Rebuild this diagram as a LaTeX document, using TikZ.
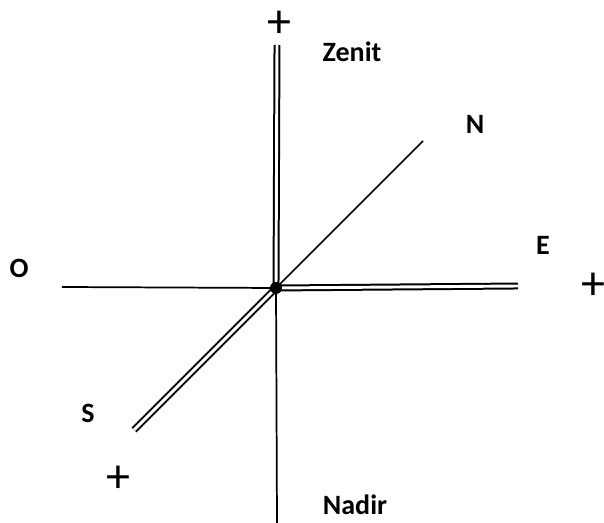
\documentclass[tikz,border=0pt]{standalone}
\usepackage{fontspec}
\setmainfont{Carlito}
\usetikzlibrary{positioning}

\begin{document}
\begin{tikzpicture}[
    x=0.75pt, y=-0.75pt,
    axis/.style={line width=1.3pt},
    dbl/.style={double, line width=1.5pt, double distance=2.2pt},
    lbl/.style={font=\fontsize{21}{21}\selectfont\bfseries, inner sep=0pt},
    plus/.style={font=\fontsize{36}{36}\selectfont, inner sep=0pt}
]
\useasboundingbox (0,0) rectangle (604,523);

% axis ends
\coordinate (c) at (276,288);
\coordinate (top) at (277,45);
\coordinate (bot) at (277,523);
\coordinate (west) at (62,287);
\coordinate (east) at (518,286);
\coordinate (sw) at (134,430);
\coordinate (ne) at (423,141);

% single halves
\draw[axis] (c) -- (bot);
\draw[axis] (west) -- (c);
\draw[axis] (c) -- (ne);

% double halves
\draw[dbl] (top) -- (c);
\draw[dbl] (c) -- (east);
\draw[dbl] (sw) -- (c);

\fill (c) circle (6);

% labels
\node[lbl] (zenit) at (352,52) {Zenit};
\node[lbl] (nord) at (475,124) {N};
\node[lbl] (est) at (543,245) {E};
\node[lbl] (ovest) at (19,268) {O};
\node[lbl] (sud) at (88,413) {S};
\node[lbl] (nadir) at (355,505) {Nadir};

\node[plus] (ptop) at (279,24) {+};
\node[plus] (peast) at (593,286) {+};
\node[plus] (psw) at (118,479) {+};

\end{tikzpicture}
\end{document}
